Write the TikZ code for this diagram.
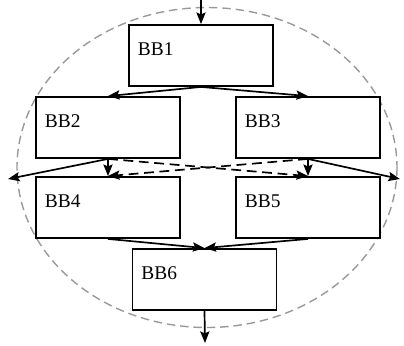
\documentclass[tikz,border=0pt]{standalone}
\usepackage{fontspec}
\setmainfont{Liberation Serif}
\usetikzlibrary{arrows.meta}

\tikzset{
  bbox/.style={draw, fill=white, line width=1.3pt, rectangle, align=left,
    text width=3.15cm, inner xsep=0.225cm, inner ysep=0pt,
    text height=0.75cm, text depth=0.775cm,
    font=\fontsize{13.8}{16}\selectfont},
  flow/.style={line width=1.2pt, -{Stealth[length=0.29cm,width=0.23cm,inset=0.05cm]}},
  spec/.style={flow, dash pattern=on 7pt off 4pt}
}

\begin{document}
\begin{tikzpicture}[x=0.025cm, y=-0.025cm]
                \useasboundingbox (0,0) rectangle (404,345);

                % region around the blocks
                \draw[gray!80, line width=1pt, dash pattern=on 6pt off 3.5pt]
                    (207,167.5) ellipse [x radius=190, y radius=160];

                \coordinate (entry) at (201,0);
                \coordinate (exit) at (205,343);
                \coordinate (leftout) at (8,179);
                \coordinate (rightout) at (400,179);

                \node [bbox] (BB1) at (201,55.5) {BB1};
                \node [bbox] (BB2) at (108,127.5) {BB2};
                \node [bbox] (BB3) at (308,127.5) {BB3};
                \node [bbox] (BB4) at (108,207.5) {BB4};
                \node [bbox] (BB5) at (308,207.5) {BB5};
                \node [bbox] (BB6) at (204.5,279.5) {BB6};

                \draw[flow] (entry) -- (BB1.north);
                \draw[flow] (BB1.south) -- (BB2.north);
                \draw[flow] (BB1.south) -- (BB3.north);

                \draw[flow] (BB2.south) -- (leftout);
                \draw[flow] (BB2.south) -- (BB4.north);
                \draw[spec] (BB2.south) -- (BB5.north);
                \draw[spec] (BB3.south) -- (BB4.north);
                \draw[flow] (BB3.south) -- (BB5.north);
                \draw[flow] (BB3.south) -- (rightout);

                \draw[flow] (BB4.south) -- (BB6.north);
                \draw[flow] (BB5.south) -- (BB6.north);
                \draw[flow] (BB6.south) -- (exit);

\end{tikzpicture}
\end{document}
